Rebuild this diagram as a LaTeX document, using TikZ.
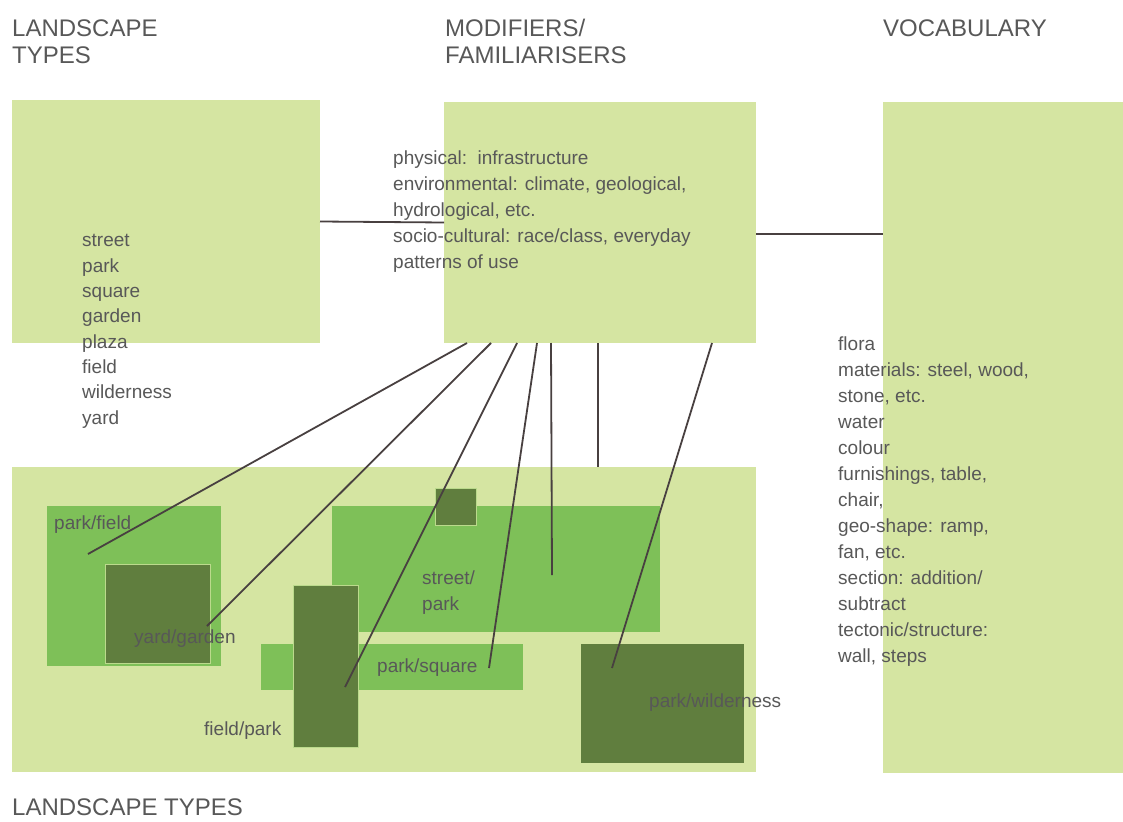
\documentclass[tikz,border=0pt]{standalone}
\usepackage{fontspec}
\setmainfont{Liberation Sans}
\definecolor{lightg}{RGB}{213,229,162}
\definecolor{midg}{RGB}{126,192,88}
\definecolor{darkg}{RGB}{96,126,62}
\definecolor{txt}{RGB}{88,88,88}
\definecolor{wire}{RGB}{72,64,64}
\begin{document}
\begin{tikzpicture}[x=1pt,y=-1pt,
  panel/.style={fill=#1,draw=none,anchor=north west,inner sep=0pt,outer sep=0pt},
  darkbox/.style={fill=darkg,draw=lightg!70!midg,line width=0.8pt,anchor=north west,inner sep=0pt,outer sep=0pt},
  head/.style={anchor=base west,inner sep=0pt,text=txt,font=\fontsize{24}{27}\selectfont,align=left},
  body/.style={anchor=base west,inner sep=0pt,text=txt,font=\fontsize{19}{#1}\selectfont,align=left},
  body/.default=25.8,
  lab/.style={anchor=base west,inner sep=0pt,text=txt,font=\fontsize{19}{26}\selectfont,align=left},
  wireline/.style={draw=wire,line width=1.8pt}]
\useasboundingbox (0,0) rectangle (1123,821);
\fill[white] (0,0) rectangle (1123,821);

% headers (multi-line nodes: base = baseline of last line)
\node[head] (h1) at (12,64) {LANDSCAPE\\[0pt]TYPES};
\node[head] (h2) at (445,64) {MODIFIERS/\\[0pt]FAMILIARISERS};
\node[head] (h3) at (883,37) {VOCABULARY};
\node[head] (h4) at (12,815) {LANDSCAPE TYPES};

% top panels
\node[panel=lightg,minimum width=308pt,minimum height=243pt] (lt) at (12,100) {};
\node[panel=lightg,minimum width=312pt,minimum height=241pt] (mod) at (444,102) {};
\node[panel=lightg,minimum width=240pt,minimum height=671pt] (voc) at (883,102) {};

% bottom composite
\node[panel=lightg,minimum width=744pt,minimum height=305pt] (big) at (12,467) {};
\node[panel=midg,minimum width=174pt,minimum height=160pt] (pf) at (47,506) {};
\node[darkbox,minimum width=105pt,minimum height=99pt] (yg) at (105,564) {};
\node[panel=midg,minimum width=328pt,minimum height=126pt] (sp) at (332,506) {};
\node[darkbox,minimum width=41pt,minimum height=37pt] (sq) at (435,488) {};
\node[panel=midg,minimum width=262pt,minimum height=46pt] (ps) at (261,644) {};
\node[darkbox,minimum width=65pt,minimum height=162pt] (fp) at (293,585) {};
\node[panel=darkg,minimum width=163pt,minimum height=119pt] (pw) at (581,644) {};

% texts
\node[body=25.3] (tl) at (82,424) {street\\park\\square\\garden\\plaza\\field\\wilderness\\yard};
\node[body=26] (tm) at (393,268) {physical:\ \ infrastructure\\environmental: climate, geological,\\hydrological, etc.\\socio-cultural: race/class, everyday\\patterns of use};
\node[body=26] (tr) at (838,662) {flora\\materials: steel, wood,\\stone, etc.\\water\\colour\\furnishings, table,\\chair,\\geo-shape: ramp,\\fan, etc.\\section: addition/\\subtract\\tectonic/structure:\\wall, steps};

\node[lab] (lpf) at (54,529) {park/field};
\node[lab] (lyg) at (134,643) {yard/garden};
\node[lab] (lsp) at (422,610) {street/\\park};
\node[lab] (lps) at (377,672) {park/square};
\node[lab] (lfp) at (204,735) {field/park};
\node[lab] (lpw) at (649,707) {park/wilderness};

% connector end points
\coordinate (s1) at (467,343);
\coordinate (s2) at (491,343);
\coordinate (s3) at (517,343);
\coordinate (s4) at (537,343);
\coordinate (s5) at (551,343);
\coordinate (s6) at (598,343);
\coordinate (s7) at (712,343);
\coordinate (e1) at (88,554);
\coordinate (e2) at (207,626);
\coordinate (e3) at (345,687);
\coordinate (e4) at (489,668);
\coordinate (e5) at (552,575);
\coordinate (e6) at (598,467);
\coordinate (e7) at (612,668);
\coordinate (r1) at (756,234);
\coordinate (r2) at (883,234);

\draw[wireline] (lt.east) -- (mod.west);
\draw[wireline] (r1) -- (r2);
\foreach \i in {1,...,7} {\draw[wireline] (s\i) -- (e\i);}
\end{tikzpicture}
\end{document}
